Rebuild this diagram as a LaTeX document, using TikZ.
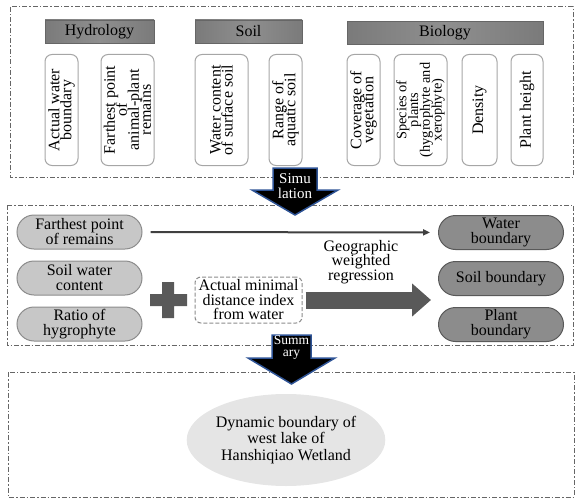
\documentclass[tikz,border=0pt]{standalone}
\usepackage{fontspec}
\setmainfont{Liberation Serif}
\usetikzlibrary{positioning, shapes.misc, shapes.geometric, arrows.meta}

\definecolor{arrowblue}{RGB}{47,84,150}

\tikzset{
	tight/.style={execute at begin node={\lineskiplimit=-10pt\relax}},
	frame/.style={draw=black!60, line width=1pt, dash pattern=on 5pt off 2pt on 1.5pt off 2pt},
	head/.style={rectangle, draw=black!60, left color=black!52, right color=black!52, middle color=black!44, minimum height=23pt, inner sep=0pt, font=\fontsize{16}{16}\selectfont},
	vbox/.style={rectangle, rounded corners=7pt, draw=black!35, line width=1pt, fill=white, rotate=90, minimum width=111pt, minimum height=#1, inner sep=0pt, align=center, tight, font=\fontsize{16}{12}\selectfont},
	lpill/.style={rounded rectangle, draw=black!45, line width=1pt, fill=black!22, minimum width=125pt, minimum height=34pt, inner sep=0pt, align=center, tight, font=\fontsize{16}{15}\selectfont},
	rpill/.style={lpill, draw=black!65, fill=black!45},
	blockarrow/.style={fill=black, draw=arrowblue, line width=1.5pt, line join=miter},
	arrowtext/.style={text=white, align=center, inner sep=0pt, tight},
}

\begin{document}
\begin{tikzpicture}[x=1pt, y=-1pt]
	\useasboundingbox (0,0) rectangle (575,503);

	\draw[frame] (10,7) rectangle (573,177);
	\draw[frame] (7,205) rectangle (573,345);
	\draw[frame] (8,372) rectangle (574,497);

	\node[head, minimum width=109pt] (hydro) at (99.5,31.5) {Hydrology};
	\node[head, minimum width=107pt] (soil) at (248.5,31.5) {Soil};
	\node[head, minimum width=196pt] (bio) at (445,33) {Biology};

	\node[vbox=33pt] (awb) at (61.5,110) {Actual water\\boundary};
	\node[vbox=53pt] (fpr) at (127.5,110) {Farthest point\\of\\animal-plant\\remains};
	\node[vbox=53pt] (wcs) at (221.5,110) {Water content\\of surface soil};
	\node[vbox=33pt] (ras) at (285.5,110) {Range of\\aquatic soil};
	\node[vbox=33pt] (cov) at (363.5,110) {Coverage of\\vegetation};
	\node[vbox=53pt, font=\fontsize{14.4}{11.7}\selectfont] (spec) at (420.5,110) {Species of\\plants\\(hygrophyte and\\xerophyte)};
	\node[vbox=35pt] (dens) at (479.5,110) {Density};
	\node[vbox=32pt] (ph) at (527,110) {Plant height};

	\filldraw[blockarrow] (273,168) -- (317,168) -- (317,190) -- (338,190) -- (295,215) -- (252,190) -- (273,190) -- cycle;
	\node[arrowtext, font=\fontsize{15}{15}\selectfont] (sim) at (295,186) {Simu\\lation};

	\node[lpill] (farrem) at (79.5,232) {Farthest point\\of remains};
	\node[lpill, below=11pt of farrem] (swc) {Soil water\\content};
	\node[lpill, below=11pt of swc] (ratio) {Ratio of\\hygrophyte};

	\node[rpill] (waterb) at (501,232.5) {Water\\boundary};
	\node[rpill, below=11pt of waterb] (soilb) {Soil boundary};
	\node[rpill, below=11pt of soilb] (plantb) {Plant\\boundary};

	\fill[black!65] (150,294) rectangle (187,306) (162,282) rectangle (174,318);

	\node[rectangle, rounded corners=6pt, draw=black!45, line width=1pt, dash pattern=on 4pt off 2pt, minimum width=107pt, minimum height=46pt, inner sep=0pt, align=center, tight, font=\fontsize{16}{14.5}\selectfont] (mindist) at (248.5,300) {Actual minimal\\distance index\\from water};

	\node[align=center, tight, font=\fontsize{16}{14.5}\selectfont] (gwr) at (361,262) {Geographic\\weighted\\regression};
	\coordinate (gwrtip) at (431,300);

	\draw[black!75, line width=2pt, shorten <=8pt, shorten >=8pt, -{Triangle[length=7pt, width=6pt]}] (farrem) -- (waterb);
	\draw[black!65, line width=17pt, shorten <=3pt, -{Triangle[length=19pt, width=32pt]}] (mindist.east) -- (gwrtip);

	\filldraw[blockarrow] (272,335) -- (311,335) -- (311,358) -- (335,358) -- (291.5,384) -- (248,358) -- (272,358) -- cycle;
	\node[arrowtext, font=\fontsize{13.5}{12}\selectfont] (summ) at (291.5,347) {Summ\\ary};

	\node[ellipse, fill=black!10, minimum width=192pt, minimum height=92pt, inner sep=0pt, align=center, font=\fontsize{16}{16.7}\selectfont] (result) at (286,440) {Dynamic boundary of\\west lake of\\Hanshiqiao Wetland};
\end{tikzpicture}
\end{document}
